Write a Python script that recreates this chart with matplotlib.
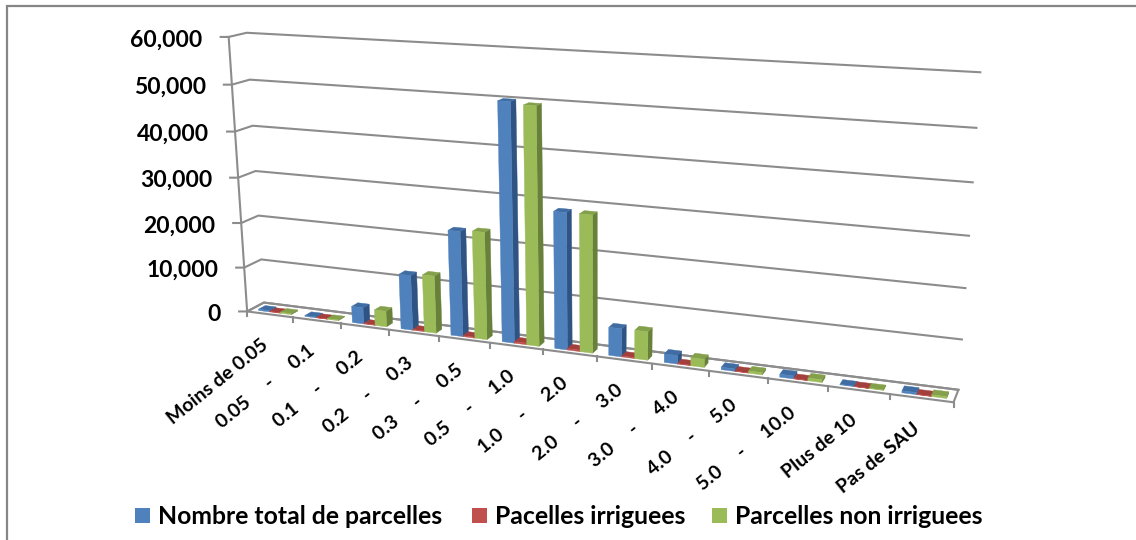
import numpy as np
import matplotlib
matplotlib.use('Agg')
import matplotlib.pyplot as plt
from matplotlib.patches import Polygon, Rectangle

plt.rcParams['font.family'] = ['Lato', 'DejaVu Sans']

# data
categories = ['Moins de 0.05', '0.05     -     0.1', '0.1     -     0.2', '0.2     -     0.3',
              '0.3     -     0.5', '0.5     -     1.0', '1.0     -     2.0', '2.0     -     3.0',
              '3.0     -     4.0', '4.0     -     5.0', '5.0     -     10.0', 'Plus de 10', 'Pas de SAU']
total_parcelles = [300, 200, 3600, 12000, 22600, 50100, 28700, 5900, 1800, 500, 600, 100, 400]
irriguees = [100, 60, 100, 150, 200, 350, 300, 200, 100, 60, 60, 30, 60]
non_irriguees = [250, 150, 3450, 12450, 22950, 49600, 28700, 5960, 1700, 450, 550, 80, 350]
y_ticks = [0, 10000, 20000, 30000, 40000, 50000, 60000]
series_names = ['Nombre total de parcelles', 'Pacelles irriguees', 'Parcelles non irriguees']

# colours: front, side, top
blue = ('#4F81BD', '#2F5483', '#3E6CA3')
red = ('#C0504D', '#853533', '#A33F3C')
green = ('#9BBB59', '#67803A', '#84A04A')
grid_color = '#8C8C8C'

# camera fitted on corners of the excel 3d box: (cat, depth, value/1000) -> pixel
world = np.array([(0, 0, 60), (0, 0, 50), (0, 0, 40), (0, 0, 0), (0, 1, 60), (0, 1, 50), (0, 1, 40), (0, 1, 0),
                  (13, 1, 60), (13, 1, 50), (13, 1, 0), (13, 0, 0), (1, 0, 0), (5, 0, 0), (9, 0, 0), (11, 0, 0)], float)
pixel = np.array([(228.3, 36.7), (231.7, 85), (235, 131.7), (248.3, 312.3), (246.7, 32.7), (250, 79.3), (253, 125.3),
                  (263.3, 302.7), (980, 72.7), (976.7, 128), (958.3, 390), (954, 402.7), (293, 317.5), (490, 342),
                  (709, 371), (828, 385)], float)


def fit_camera(w, p):
    rows = []
    for (x, y, z), (u, v) in zip(w, p):
        rows.append([x, y, z, 1, 0, 0, 0, 0, -u * x, -u * y, -u * z, -u])
        rows.append([0, 0, 0, 0, x, y, z, 1, -v * x, -v * y, -v * z, -v])
    return np.linalg.svd(np.array(rows))[2][-1].reshape(3, 4)


cam = fit_camera(world, pixel)


def proj(x, d, val):
    h = cam @ np.array([x, d, val / 1000, 1.0])
    return h[0] / h[2], h[1] / h[2]


def draw_bar(ax, x0, width, d0, d1, value, colors):
    x1 = x0 + width
    front = [proj(x0, d0, 0), proj(x1, d0, 0), proj(x1, d0, value), proj(x0, d0, value)]
    side = [proj(x1, d0, 0), proj(x1, d1, 0), proj(x1, d1, value), proj(x1, d0, value)]
    top = [proj(x0, d0, value), proj(x1, d0, value), proj(x1, d1, value), proj(x0, d1, value)]
    for pts, col in ((side, colors[1]), (top, colors[2]), (front, colors[0])):
        ax.add_patch(Polygon(pts, closed=True, facecolor=col, edgecolor=col, linewidth=0.3, zorder=3))


fig = plt.figure(figsize=(11.36, 5.4), dpi=100)
ax = fig.add_axes([0, 0, 1, 1])
ax.set_xlim(0, 1136)
ax.set_ylim(540, 0)
ax.axis('off')

# chart frame
ax.plot([7, 7, 1136], [540, 5.5, 5.5], color='#868686', lw=1.6, solid_joinstyle='miter')

# gridlines + value axis
n_cat = len(categories)
for v in y_ticks:
    a, b, c = proj(0, 0, v), proj(0, 1, v), proj(n_cat, 1, v)
    ax.plot([a[0] - 8, a[0], b[0], c[0]], [a[1], a[1], b[1], c[1]], color=grid_color, lw=1.5, zorder=1)
    ax.text(a[0] - 26, a[1] + 3, f'{v:,}', ha='right', va='center',
            fontsize=16.5, fontweight='bold', color='black')
p0, p1 = proj(0, 0, 0), proj(0, 0, y_ticks[-1])
ax.plot([p0[0], p1[0]], [p0[1], p1[1]], color=grid_color, lw=1.5, zorder=1)

# floor
floor = [proj(0, 0, 0), proj(n_cat, 0, 0), proj(n_cat, 1, 0), proj(0, 1, 0)]
ax.add_patch(Polygon(floor, closed=True, fill=False, edgecolor=grid_color, lw=1.5, zorder=2))
for k in range(n_cat + 1):
    t = proj(k, 0, 0)
    ax.plot([t[0], t[0]], [t[1], t[1] + 5], color=grid_color, lw=1.5, zorder=2)

# bars, left to right since the right sides are seen
bar_w = 0.235
for k in range(n_cat):
    x0 = k + 0.17
    draw_bar(ax, x0, bar_w, 0.22, 0.62, total_parcelles[k], blue)
    draw_bar(ax, x0 + bar_w, bar_w, 0.22, 0.62, irriguees[k], red)
    draw_bar(ax, x0 + 2 * bar_w, bar_w, 0.22, 0.62, non_irriguees[k], green)

# category labels
for k, lab in enumerate(categories):
    t = proj(k + 0.5, 0, 0)
    ax.text(t[0] - 4, t[1] + 28, lab, rotation=39, rotation_mode='anchor', ha='right', va='center',
            fontsize=14, fontweight='bold', color='black')

# legend
legend_x = [135, 472, 712]
for lx, name, col in zip(legend_x, series_names, (blue, red, green)):
    ax.add_patch(Rectangle((lx, 508), 15, 15, facecolor=col[0], edgecolor='none'))
    ax.text(lx + 23, 517, name, ha='left', va='center', fontsize=17.8, fontweight='bold', color='black')

plt.savefig('out.png', dpi=100)
